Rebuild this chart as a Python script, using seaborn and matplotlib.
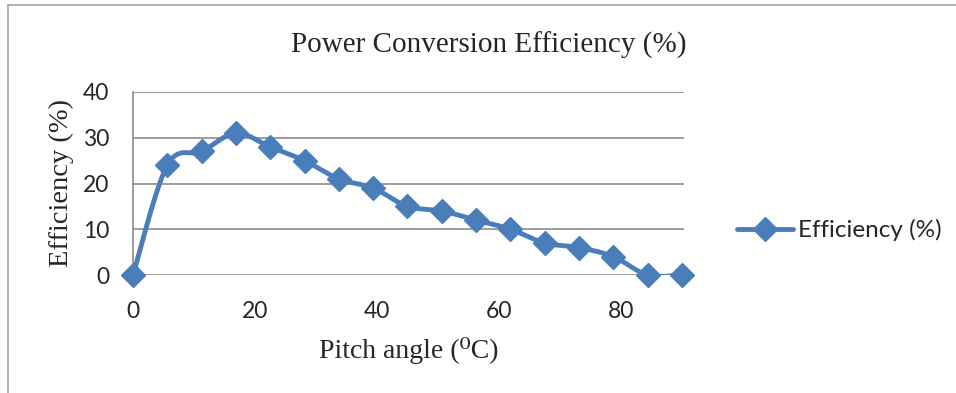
import numpy as np
import pandas as pd
import matplotlib
matplotlib.use("Agg")
import matplotlib.pyplot as plt
import seaborn as sns
from matplotlib.lines import Line2D

pitch = [0, 5.625, 11.25, 16.875, 22.5, 28.125, 33.75, 39.375, 45, 50.625,
         56.25, 61.875, 67.5, 73.125, 78.75, 84.375, 90]
efficiency = [0, 24, 27, 31, 28, 25, 21, 19, 15, 14, 12, 10, 7, 6, 4, 0, 0]
x_ticks = [0, 20, 40, 60, 80]
y_ticks = [0, 10, 20, 30, 40]
title = "Power Conversion Efficiency (%)"
series_name = "Efficiency (%)"

sns.set_theme(style="white")
serif = ["Liberation Serif", "DejaVu Serif"]
sans = ["Lato", "DejaVu Sans"]
color = "#4a7ebb"

# Catmull-Rom smoothing (like Excel's smoothed line) through the data points
def smooth(xp, yp, n=30):
    xp = np.asarray(xp, float); yp = np.asarray(yp, float)
    P = np.column_stack([xp, yp])
    P = np.vstack([P[0], P, P[-1]])
    out = []
    for i in range(1, len(P) - 2):
        p0, p1, p2, p3 = P[i - 1], P[i], P[i + 1], P[i + 2]
        t = np.linspace(0, 1, n, endpoint=False)[:, None]
        seg = 0.5 * ((2 * p1) + (-p0 + p2) * t + (2 * p0 - 5 * p1 + 4 * p2 - p3) * t ** 2
                     + (-p0 + 3 * p1 - 3 * p2 + p3) * t ** 3)
        out.append(seg)
    out.append(P[-2][None, :])
    out = np.vstack(out)
    return out[:, 0], out[:, 1]

sx, sy = smooth(pitch, efficiency)
curve = pd.DataFrame({"x": sx, "y": sy})
pts = pd.DataFrame({"x": pitch, "y": efficiency})

fig = plt.figure(figsize=(9.56, 3.93), dpi=100)
ax = fig.add_axes([133 / 956, 1 - 275 / 393, (684 - 133) / 956, (275 - 92) / 393])

# outer chart border (top and left visible)
fig.add_artist(Line2D([8 / 956, 1], [1 - 5 / 393, 1 - 5 / 393], transform=fig.transFigure,
                      color="#a6a6a6", lw=1.2))
fig.add_artist(Line2D([8 / 956, 8 / 956], [0, 1 - 5 / 393], transform=fig.transFigure,
                      color="#a6a6a6", lw=1.2))

for yv in y_ticks:
    ax.axhline(yv, color="#8c8c8c", lw=1.2, zorder=1)

sns.lineplot(data=curve, x="x", y="y", sort=False, ax=ax, color=color, lw=3.5,
             zorder=3, legend=False)
ax.plot(pts["x"], pts["y"], linestyle="none", marker="D", markersize=12.5,
        color=color, zorder=4, clip_on=False)

ax.set_xlim(0, 90.33)
ax.set_ylim(0, 40)
ax.set_xticks(x_ticks)
ax.set_yticks(y_ticks)
ax.set_xticklabels([str(v) for v in x_ticks], family=sans, fontsize=16.5)
ax.set_yticklabels([str(v) for v in y_ticks], family=sans, fontsize=16.5)
ax.tick_params(axis="x", length=0, pad=18.5)
ax.tick_params(axis="y", length=0, pad=17)
for s in ["top", "right", "bottom"]:
    ax.spines[s].set_visible(False)
ax.spines["left"].set_color("#8c8c8c")
ax.spines["left"].set_linewidth(1.2)
ax.set_xlabel("")
ax.set_ylabel("")

fig.text(489 / 956, 1 - 45 / 393, title, family=serif, fontsize=21,
         ha="center", va="center")
fig.text(409 / 956, 1 - 351 / 393, "Pitch angle (\u2070C)", family=serif, fontsize=20,
         ha="center", va="center")
fig.text(61 / 956, 1 - 183 / 393, "Efficiency (%)", family=serif, fontsize=20.5,
         ha="center", va="center", rotation=90)

handle = Line2D([], [], color=color, lw=3.5, marker="D", markersize=12.5)
leg = fig.legend([handle], [series_name], loc="center left",
                 bbox_to_anchor=(737 / 956, 1 - 230 / 393), frameon=False,
                 handlelength=2.3, handletextpad=0.2, borderpad=0, borderaxespad=0,
                 prop={"family": sans, "size": 17.5})

fig.savefig("out.png", dpi=100)
